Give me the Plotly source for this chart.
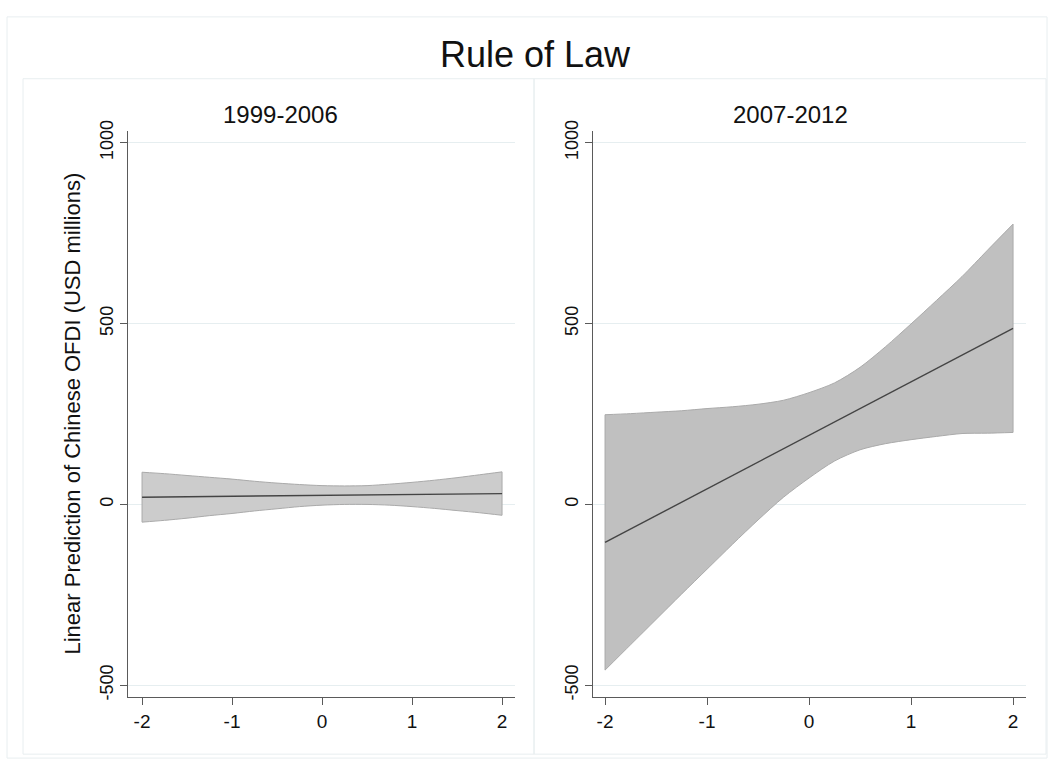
import plotly.graph_objects as go

# Rule-of-law score (standardised) at which predictions were evaluated
rule_of_law = [-2, -1.75, -1.5, -1.25, -1, -0.75, -0.5, -0.25, 0,
               0.25, 0.5, 0.75, 1, 1.25, 1.5, 1.75, 2]

# 1999-2006: linear prediction and 95% CI (USD millions)
pred_1999 = [20, 20.6, 21.3, 21.9, 22.5, 23.1, 23.8, 24.4, 25,
             25.6, 26.3, 26.9, 27.5, 28.1, 28.8, 29.4, 30]
upper_1999 = [89, 85, 80, 75, 70, 64, 59, 55, 52,
              51, 52, 56, 61, 67, 74, 82, 90]
lower_1999 = [-49, -44, -38, -31, -25, -18, -12, -6, -2,
              0, 0, -2, -6, -11, -17, -23, -30]

# 2007-2012: linear prediction and 95% CI (USD millions)
pred_2007 = [-105, -68, -31, 6, 43, 80, 117, 154, 191,
             228, 265, 302, 339, 376, 413, 450, 487]
upper_2007 = [248, 251, 255, 259, 265, 270, 277, 288, 309,
              336, 379, 436, 499, 564, 630, 703, 775]
lower_2007 = [-458, -388, -318, -248, -179, -110, -43, 20, 73,
              120, 151, 168, 179, 188, 196, 197, 199]

panel_titles = ["1999-2006", "2007-2012"]
y_ticks = [-500, 0, 500, 1000]
x_ticks = [-2, -1, 0, 1, 2]

W, H = 1054, 766
FONT = "Liberation Sans, Arial, Helvetica, sans-serif"
AXIS_COLOR = "#5a5a5a"
GRID_COLOR = "#e6eef0"
FRAME_COLOR = "#e8eef0"
EDGE_COLOR = "rgb(170,170,170)"


def px_x(p):
    return p / W


def px_y(p):
    return 1 - p / H


fig = go.Figure()

panels = [
    (pred_1999, upper_1999, lower_1999, "x", "y", "rgb(204,204,204)"),
    (pred_2007, upper_2007, lower_2007, "x2", "y2", "rgb(192,192,192)"),
]
for pred, upper, lower, xa, ya, fillc in panels:
    # lower CI bound, then upper bound filled down to it
    fig.add_trace(go.Scatter(
        x=rule_of_law, y=lower, mode="lines",
        line=dict(color=EDGE_COLOR, width=1, shape="spline", smoothing=0.8),
        hoverinfo="skip", showlegend=False, xaxis=xa, yaxis=ya,
    ))
    fig.add_trace(go.Scatter(
        x=rule_of_law, y=upper, mode="lines",
        fill="tonexty", fillcolor=fillc,
        line=dict(color=EDGE_COLOR, width=1, shape="spline", smoothing=0.8),
        hoverinfo="skip", showlegend=False, xaxis=xa, yaxis=ya,
    ))
    # vertical edges closing the band at both ends
    for i in (0, -1):
        fig.add_trace(go.Scatter(
            x=[rule_of_law[i], rule_of_law[i]], y=[lower[i], upper[i]],
            mode="lines", line=dict(color=EDGE_COLOR, width=1),
            hoverinfo="skip", showlegend=False, xaxis=xa, yaxis=ya,
        ))
    fig.add_trace(go.Scatter(
        x=rule_of_law, y=pred, mode="lines",
        line=dict(color="#444444", width=1.4),
        showlegend=False, xaxis=xa, yaxis=ya,
    ))

y_dom = [px_y(699), px_y(122)]
common_x = dict(
    tickvals=x_ticks, ticktext=[str(v) for v in x_ticks],
    showline=True, linecolor=AXIS_COLOR, linewidth=1.3,
    ticks="outside", ticklen=7, tickcolor=AXIS_COLOR, tickwidth=1,
    showgrid=False, zeroline=False,
    tickfont=dict(family=FONT, size=19, color="#111111"),
)
common_y = dict(
    range=[-533, 1033],
    tickvals=y_ticks, ticktext=[str(v) for v in y_ticks],
    tickangle=-90,
    showline=True, linecolor=AXIS_COLOR, linewidth=1.3,
    ticks="outside", ticklen=7, tickcolor=AXIS_COLOR, tickwidth=1,
    showgrid=True, gridcolor=GRID_COLOR, gridwidth=1,
    zeroline=False, domain=y_dom,
    tickfont=dict(family=FONT, size=18, color="#111111"),
)

fig.update_layout(
    width=W, height=H,
    margin=dict(l=0, r=0, t=0, b=0),
    paper_bgcolor="white", plot_bgcolor="white",
    xaxis=dict(common_x, domain=[px_x(128), px_x(515)], range=[-2.156, 2.144], anchor="y"),
    yaxis=dict(common_y, anchor="x"),
    xaxis2=dict(common_x, domain=[px_x(593), px_x(1026)], range=[-2.118, 2.127], anchor="y2"),
    yaxis2=dict(common_y, anchor="x2"),
    font=dict(family=FONT, color="#111111"),
)

# Outer graph frame and the two panel boxes
shapes = [
    dict(type="rect", xref="paper", yref="paper",
         x0=px_x(7), x1=px_x(1047), y0=px_y(761), y1=px_y(6),
         line=dict(color=FRAME_COLOR, width=1), layer="below"),
    dict(type="rect", xref="paper", yref="paper",
         x0=px_x(23), x1=px_x(534), y0=px_y(757), y1=px_y(69),
         line=dict(color=FRAME_COLOR, width=1), layer="below"),
    dict(type="rect", xref="paper", yref="paper",
         x0=px_x(534), x1=px_x(1046), y0=px_y(757), y1=px_y(69),
         line=dict(color=FRAME_COLOR, width=1), layer="below"),
]
fig.update_layout(shapes=shapes)

annotations = [
    dict(text="Rule of Law", x=px_x(535), y=px_y(44), xref="paper", yref="paper",
         showarrow=False, xanchor="center", yanchor="middle",
         font=dict(family=FONT, size=36, color="#111111")),
    dict(text=panel_titles[0], x=px_x(280), y=px_y(105), xref="paper", yref="paper",
         showarrow=False, xanchor="center", yanchor="middle",
         font=dict(family=FONT, size=24, color="#111111")),
    dict(text=panel_titles[1], x=px_x(790), y=px_y(105), xref="paper", yref="paper",
         showarrow=False, xanchor="center", yanchor="middle",
         font=dict(family=FONT, size=24, color="#111111")),
    dict(text="Linear Prediction of Chinese OFDI (USD millions)",
         x=px_x(73), y=px_y(410), xref="paper", yref="paper",
         showarrow=False, textangle=-90, xanchor="center", yanchor="middle",
         font=dict(family=FONT, size=22, color="#111111")),
]
fig.update_layout(annotations=annotations)

fig.write_html("out.html")
